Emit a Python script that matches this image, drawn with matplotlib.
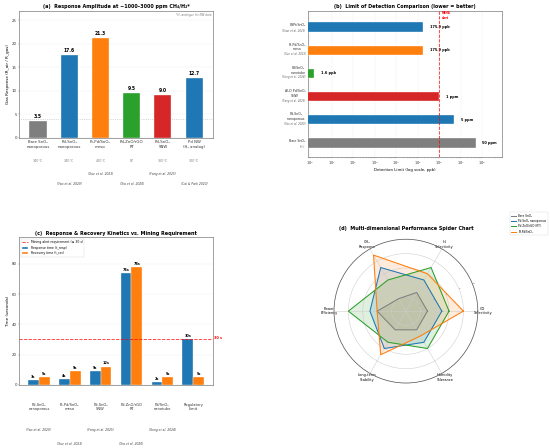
import numpy as np
import matplotlib
matplotlib.use("Agg")
import matplotlib.pyplot as plt

plt.rcParams['font.family'] = ['DejaVu Sans']

GREY = '#7f7f7f'; BLUE = '#1f77b4'; ORANGE = '#ff7f0e'; GREEN = '#2ca02c'; RED = '#d62728'

# ---- (a) data
a_names = ["Bare SnO₂\nnanoporous", "Pd-SnO₂\nnanoporous", "Pt-Pd/SnO₂\nmeso",
           "Pd-ZnO/rGO\nRT", "Pd-SnO₂\nSNW", "Pd NW\n(H₂ analog)"]
a_values = [3.5, 17.6, 21.3, 9.5, 9.0, 12.7]
a_temps = ["340°C", "340°C", "400°C", "RT", "300°C", "300°C"]
a_refs = ["", "(Yao et al. 2020)", "(Xue et al. 2023)", "(Xia et al. 2020)",
          "(Fang et al. 2025)", "(Cai & Park 2020)"]
a_colors = [GREY, BLUE, ORANGE, GREEN, RED, BLUE]
a_threshold = 4

# ---- (b) data
b_names = ["Bare SnO₂", "Pd-SnO₂\nnanoporous", "ALD Pd/SnO₂\nSNW",
           "Pd/SnO₂\nnanotube", "Pt-Pd/SnO₂\nmeso", "PdPt/SnO₂"]
b_refs = ["(lit.)", "(Yao et al. 2020)", "(Fang et al. 2025)",
          "(Song et al. 2024)", "(Xue et al. 2023)", "(Yuan et al. 2023)"]
b_values = [5e7, 5e6, 1e6, 1.6, 175900, 175900]
b_labels = ["50 ppm", "5 ppm", "1 ppm", "1.6 ppb", "175.9 ppb", "175.9 ppb"]
b_colors = [GREY, BLUE, RED, GREEN, ORANGE, BLUE]
b_alert = 1e6

# ---- (c) data
c_names = ["Pd-SnO₂\nnanoporous", "Pt-Pd/SnO₂\nmeso", "Pd-SnO₂\nSNW",
           "Pd-ZnO/rGO\nRT", "Pd/SnO₂\nnanotube", "Regulatory\nLimit"]
c_refs = ["(Yao et al. 2020)", "(Xue et al. 2023)", "(Fang et al. 2025)",
          "(Xia et al. 2020)", "(Song et al. 2024)", ""]
c_resp = [3, 4, 9, 74, 2, 30]
c_rec = [5, 9, 12, 78, 5, 5]
c_limit = 30

# ---- (d) data
d_axes = ["CO\nSelectivity", "H₂\nSelectivity", "CH₄\nResponse",
          "Power\nEfficiency", "Long-term\nStability", "Humidity\nTolerance"]
d_series = ["Bare SnO₂", "Pd-SnO₂ nanoporous", "Pd-ZnO/rGO (RT)", "Pt-Pd/SnO₂"]
d_bare = [3, 3, 2, 4, 3, 3]
d_pdsno2 = [5, 5, 7, 5, 6, 5]
d_pdzno = [6, 7, 5, 8, 5, 6]
d_ptpd = [8, 6, 9, 4, 7, 4]
d_colors = [GREY, BLUE, GREEN, ORANGE]

fig = plt.figure(figsize=(22, 17.92), dpi=25)

def style(ax):
    for s in ax.spines.values():
        s.set_color('#888888')
        s.set_linewidth(2.2)
    ax.tick_params(labelsize=11, colors='#333333')

# ---------- (a)
ax = fig.add_axes([0.035, 0.693, 0.352, 0.283])
style(ax)
x = np.arange(len(a_values))
ax.bar(x, a_values, width=0.55, color=a_colors, edgecolor='white', linewidth=1, zorder=3)
for xi, v in zip(x, a_values):
    ax.text(xi, v + 0.4, f"{v:.1f}", ha='center', va='bottom', fontsize=13, fontweight='bold')
ax.axhline(a_threshold, color='grey', linestyle=':', linewidth=2, alpha=0.6, zorder=2)
ax.set_xlim(-0.6, 5.6)
ax.set_ylim(0, 27)
ax.set_xticks(x)
ax.set_xticklabels(a_names, fontsize=11)
ax.set_ylabel("Gas Response (R_air / R_gas)", fontsize=12)
ax.yaxis.grid(True, color='#dddddd', linewidth=1, alpha=0.6)
ax.set_axisbelow(True)
ax.set_title("(a)  Response Amplitude at ~1000–3000 ppm CH₄/H₂*", fontsize=14, fontweight='bold', pad=8)
ax.text(0.99, 0.98, "*H₂ analogue for NW data", transform=ax.transAxes, ha='right', va='top',
        fontsize=8, style='italic', color='grey')
for xi, t, r in zip(x, a_temps, a_refs):
    ax.annotate(t, xy=(xi, 0), xycoords=('data', 'axes fraction'), xytext=(0, -67),
                textcoords='offset points', ha='center', va='center', fontsize=9.5, color='grey')
    if r:
        off = -104 if xi % 2 == 0 else -133
        ax.annotate(r, xy=(xi, 0), xycoords=('data', 'axes fraction'), xytext=(0, off),
                    textcoords='offset points', ha='center', va='center', fontsize=8.5,
                    style='italic', color='#444444')

# ---------- (b)
ax = fig.add_axes([0.5606, 0.650, 0.3516, 0.326])
style(ax)
y = np.arange(len(b_values))
ax.barh(y, b_values, height=0.4, color=b_colors, edgecolor='white', linewidth=1, zorder=3)
ax.set_xscale('log')
ax.set_xlim(0.83, 7.9e8)
ax.set_ylim(-0.6, 5.7)
for yi, v, lab in zip(y, b_values, b_labels):
    ax.text(v * 2.0, yi, lab, ha='left', va='center', fontsize=10, fontweight='bold')
ax.axvline(b_alert, color='red', linestyle='--', linewidth=2.5, alpha=0.8, zorder=4)
ax.text(b_alert * 1.25, 5.68, "MSHA\nalert", color='red', fontsize=7.5, fontweight='bold',
        ha='left', va='top')
ax.set_yticks(y)
ax.set_yticklabels([])
ax.tick_params(axis='y', length=0)
for yi, n, r in zip(y, b_names, b_refs):
    nl = n.count("\n") + 1
    ax.annotate(n, xy=(0, yi), xycoords=('axes fraction', 'data'), xytext=(-8, 5 + 4 * (nl - 1)),
                textcoords='offset points', ha='right', va='center', fontsize=9.5,
                color='#333333', multialignment='center')
    ax.annotate(r, xy=(0, yi), xycoords=('axes fraction', 'data'), xytext=(-8, -11.5),
                textcoords='offset points', ha='right', va='center', fontsize=7.5,
                style='italic', color='#666666')
ax.set_xticks([10.0 ** k for k in range(9)])
ax.tick_params(axis='x', labelsize=10)
ax.set_xlabel("Detection Limit (log scale, ppb)", fontsize=11)
ax.xaxis.grid(True, color='#dddddd', linewidth=1, alpha=0.6)
ax.set_axisbelow(True)
ax.set_title("(b)  Limit of Detection Comparison (lower = better)", fontsize=14, fontweight='bold', pad=8)

# ---------- (c)
ax = fig.add_axes([0.035, 0.141, 0.352, 0.329])
style(ax)
x = np.arange(len(c_resp))
w = 0.35
b1 = ax.bar(x - w / 2, c_resp, width=w, color=BLUE, edgecolor='white', linewidth=1, zorder=3)
b2 = ax.bar(x + w / 2, c_rec, width=w, color=ORANGE, edgecolor='white', linewidth=1, zorder=3)
for xi, v in zip(x, c_resp):
    ax.text(xi - w / 2, v + 0.8, f"{v}s", ha='center', va='bottom', fontsize=10, fontweight='bold')
for xi, v in zip(x, c_rec):
    ax.text(xi + w / 2, v + 0.8, f"{v}s", ha='center', va='bottom', fontsize=10, fontweight='bold')
ln = ax.axhline(c_limit, color='red', linestyle='--', linewidth=2.5, alpha=0.8, zorder=4)
ax.annotate("30 s", xy=(1, c_limit), xycoords=('axes fraction', 'data'), xytext=(4, 3),
            textcoords='offset points', ha='left', va='center', color='red', fontsize=10,
            fontweight='bold')
ax.set_xlim(-0.635, 5.635)
ax.set_ylim(0, 97.5)
ax.set_xticks(x)
ax.set_xticklabels(c_names, fontsize=10.5)
ax.tick_params(axis='x', length=0, pad=52)
ax.set_ylabel("Time (seconds)", fontsize=12)
ax.yaxis.grid(True, color='#dddddd', linewidth=1, alpha=0.6)
ax.set_axisbelow(True)
ax.legend([ln, b1, b2], ["Mining alert requirement (≤ 30 s)", "Response time (t_resp)",
                         "Recovery time (t_rec)"], loc='upper left', fontsize=9, framealpha=0.9)
ax.set_title("(c)  Response & Recovery Kinetics vs. Mining Requirement", fontsize=14, fontweight='bold', pad=8)
for xi, r in zip(x, c_refs):
    if r:
        off = -130 if xi % 2 == 0 else -169
        ax.annotate(r, xy=(xi, 0), xycoords=('data', 'axes fraction'), xytext=(0, off),
                    textcoords='offset points', ha='center', va='center', fontsize=8.5,
                    style='italic', color='#444444')

# ---------- (d)
ax = fig.add_axes([0.607, 0.145, 0.262, 0.321], projection='polar')
angles = np.linspace(0, 2 * np.pi, len(d_axes), endpoint=False)
closed = np.concatenate([angles, angles[:1]])
for name, vals, col in zip(d_series, [d_bare, d_pdsno2, d_pdzno, d_ptpd], d_colors):
    v = np.concatenate([vals, vals[:1]])
    ax.plot(closed, v, color=col, linewidth=3, label=name)
    ax.fill(closed, v, color=col, alpha=0.15)
ax.set_ylim(0, 10)
ax.set_yticks([2, 4, 6, 8, 10])
ax.set_yticklabels(["2", "4", "6", "8", "10"], fontsize=7, color='grey')
ax.set_rlabel_position(22.5)
ax.set_thetagrids(np.degrees(angles), d_axes, fontsize=10)
ax.tick_params(axis='x', pad=4)
ax.grid(color='#cccccc', linewidth=1.5)
ax.spines['polar'].set_color('#555555')
ax.spines['polar'].set_linewidth(2)
ax.set_title("(d)  Multi-dimensional Performance Spider Chart", fontsize=14, fontweight='bold', pad=26)
fig.legend(*ax.get_legend_handles_labels(), loc='upper right', bbox_to_anchor=(0.998, 0.529),
           fontsize=8, framealpha=0.9)

fig.savefig("out.png", dpi=25)
